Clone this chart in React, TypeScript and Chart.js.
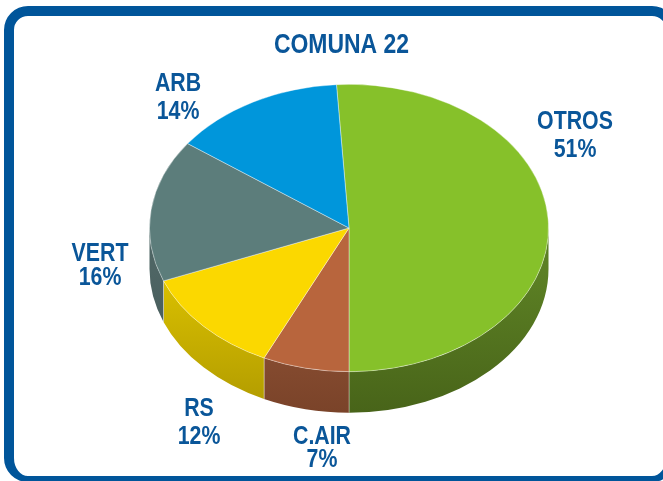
import React, { useEffect, useRef } from "react";
import { Chart, registerables } from "chart.js";

Chart.register(...registerables);

// ---- data ----
const chartTitle = "COMUNA 22";
const categories = ["OTROS", "C.AIR", "RS", "VERT", "ARB"];
const values = [51, 7, 12, 16, 14];

// ---- styles / layout ----
const faceColors = ["#86c12a", "#b8653d", "#fbd800", "#5c7d7b", "#0096db"];
const wallTop = ["#5c8024", "#96573a", "#dcc200", "#4e6564", "#0a6fa3"];
const wallBottom = ["#486419", "#7a4329", "#b09a00", "#425352", "#075c88"];
const textColor = "#0a5699";
// label anchor: [centerX, line1Y, line2Y]
const labelPos: number[][] = [
  [575, 122, 150],
  [322, 437, 460],
  [199, 409, 437],
  [100, 254, 278],
  [178, 84, 112],
];
const TILT = 0.72; // vertical squash of the pie top
const DEPTH = 41; // thickness of the 3D wall in px
const NARROW = 0.82;

function drawNarrowText(ctx: CanvasRenderingContext2D, text: string, x: number, y: number, size: number) {
  ctx.save();
  ctx.translate(x, y);
  ctx.scale(NARROW, 1);
  ctx.font = `bold ${size}px "Liberation Sans", Arial, sans-serif`;
  ctx.textAlign = "center";
  ctx.textBaseline = "middle";
  ctx.fillStyle = textColor;
  ctx.fillText(text, 0, 0);
  ctx.restore();
}

const pie3d = {
  id: "pie3d",
  beforeDatasetsDraw(chart: any) {
    const ctx: CanvasRenderingContext2D = chart.ctx;
    const meta = chart.getDatasetMeta(0);
    const arcs = meta.data;
    if (!arcs.length) return;
    const p0 = arcs[0].getProps(["x", "y", "outerRadius"], true);
    const cx = p0.x, cy = p0.y, r = p0.outerRadius, ry = r * TILT;
    // walls
    arcs.forEach((arc: any, i: number) => {
      const { startAngle, endAngle } = arc.getProps(["startAngle", "endAngle"], true);
      for (const off of [-2 * Math.PI, 0, 2 * Math.PI]) {
        const a = Math.max(startAngle + off, 0);
        const b = Math.min(endAngle + off, Math.PI);
        if (b <= a) continue;
        const g = ctx.createLinearGradient(0, cy + ry * 0.3, 0, cy + ry + DEPTH);
        g.addColorStop(0, wallTop[i]);
        g.addColorStop(1, wallBottom[i]);
        ctx.beginPath();
        ctx.ellipse(cx, cy, r, ry, 0, a, b, false);
        ctx.ellipse(cx, cy + DEPTH, r, ry, 0, b, a, true);
        ctx.closePath();
        ctx.fillStyle = g;
        ctx.fill();
        // seam lines
        ctx.strokeStyle = "rgba(255,255,255,0.35)";
        ctx.lineWidth = 1;
        for (const t of [a, b]) {
          if (t <= 0.001 || t >= Math.PI - 0.001) continue;
          const x = cx + r * Math.cos(t);
          const y = cy + ry * Math.sin(t);
          ctx.beginPath();
          ctx.moveTo(x, y);
          ctx.lineTo(x, y + DEPTH);
          ctx.stroke();
        }
      }
    });
    // squash the top face
    ctx.save();
    ctx.translate(0, cy);
    ctx.scale(1, TILT);
    ctx.translate(0, -cy);
  },
  afterDatasetsDraw(chart: any) {
    const ctx: CanvasRenderingContext2D = chart.ctx;
    ctx.restore();
    drawNarrowText(ctx, chartTitle, 341.5, 45, 28);
    categories.forEach((c, i) => {
      const [x, y1, y2] = labelPos[i];
      drawNarrowText(ctx, c, x, y1, 26);
      drawNarrowText(ctx, `${values[i]}%`, x, y2, 26);
    });
  },
};

export default function App() {
  const ref = useRef<HTMLCanvasElement | null>(null);
  useEffect(() => {
    if (!ref.current) return;
    const chart = new Chart(ref.current, {
      type: "pie",
      data: {
        labels: categories,
        datasets: [
          {
            data: values,
            backgroundColor: faceColors,
            borderColor: "rgba(255,255,255,0.45)",
            borderWidth: 1,
            clip: false as any,
          },
        ],
      },
      options: {
        responsive: false,
        animation: false,
        rotation: -3.6,
        layout: { padding: { left: 149, right: 114, top: 28, bottom: 53 } },
        plugins: {
          legend: { display: false },
          title: { display: false },
          tooltip: { enabled: false },
        },
      },
      plugins: [pie3d],
    });
    return () => chart.destroy();
  }, []);

  return (
    <div style={{ position: "fixed", left: 0, top: 0, width: 663, height: 481, overflow: "hidden", background: "#fff" }}>
      <div
        style={{
          position: "absolute",
          left: 4,
          top: 6,
          width: 672,
          height: 476,
          boxSizing: "border-box",
          border: "10px solid #00559a",
          borderBottomWidth: 6,
          borderRadius: 24,
        }}
      />
      <canvas ref={ref} width={663} height={481} style={{ position: "absolute", left: 0, top: 0 }} />
    </div>
  );
}
